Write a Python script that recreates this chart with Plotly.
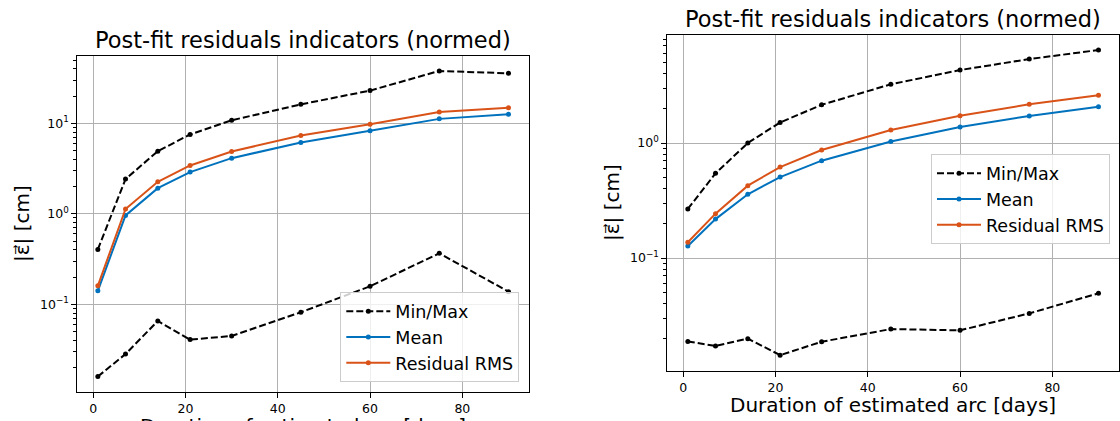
import plotly.graph_objects as go

# ---- data ----
arc_days = [1, 7, 14, 21, 30, 45, 60, 75, 90]

left_max = [0.404, 2.42, 4.92, 7.53, 10.8, 16.2, 23.0, 37.9, 35.7]
left_min = [0.0159, 0.0282, 0.0654, 0.0407, 0.0447, 0.0816, 0.158, 0.366, 0.138]
left_mean = [0.141, 0.96, 1.92, 2.89, 4.12, 6.14, 8.26, 11.2, 12.6]
left_rms = [0.160, 1.13, 2.26, 3.42, 4.88, 7.34, 9.79, 13.3, 14.9]

right_max = [0.267, 0.545, 1.0, 1.51, 2.15, 3.24, 4.31, 5.37, 6.44]
right_min = [0.0188, 0.0172, 0.0199, 0.0143, 0.0187, 0.0241, 0.0235, 0.0330, 0.0493]
right_mean = [0.127, 0.218, 0.358, 0.506, 0.702, 1.03, 1.38, 1.72, 2.07]
right_rms = [0.137, 0.243, 0.426, 0.618, 0.869, 1.30, 1.73, 2.17, 2.60]

y_tickvals = [0.1, 1, 10]
y_ticktext = ["10<sup>\u22121</sup>", "10<sup>0</sup>", "10<sup>1</sup>"]
x_tickvals = [0, 20, 40, 60, 80]

title_text = "Post-fit residuals indicators (normed)"
xlabel_text = "Duration of estimated arc [days]"
ylabel_text = "|\u03b5\u20d7| [cm]"

# ---- styling ----
W, H = 1120, 421
FONT = "DejaVu Sans"
BLACK = "#000000"
BLUE = "#0072BD"
ORANGE = "#D95319"
GRID = "#b0b0b0"

minor_vals = [m * 10 ** e for e in range(-3, 3) for m in range(2, 10)]


def px_x(p):
    return p / W


def px_y(p):
    return 1 - p / H


fig = go.Figure()


def add_panel(xa, ya, leg, ymax, ymin, ymean, yrms):
    common = dict(xaxis=xa, yaxis=ya, legend=leg)
    fig.add_trace(go.Scatter(x=arc_days, y=ymax, mode="lines+markers", name="Min/Max",
                             line=dict(color=BLACK, width=2, dash="7px,3px"),
                             marker=dict(size=5, color=BLACK),
                             legendgroup=leg + "mm", showlegend=True, **common))
    fig.add_trace(go.Scatter(x=arc_days, y=ymin, mode="lines+markers", name="Min/Max",
                             line=dict(color=BLACK, width=2, dash="7px,3px"),
                             marker=dict(size=5, color=BLACK),
                             legendgroup=leg + "mm", showlegend=False, **common))
    fig.add_trace(go.Scatter(x=arc_days, y=ymean, mode="lines+markers", name="Mean",
                             line=dict(color=BLUE, width=2),
                             marker=dict(size=5, color=BLUE),
                             legendgroup=leg + "mean", **common))
    fig.add_trace(go.Scatter(x=arc_days, y=yrms, mode="lines+markers", name="Residual RMS",
                             line=dict(color=ORANGE, width=2),
                             marker=dict(size=5, color=ORANGE),
                             legendgroup=leg + "rms", **common))


add_panel("x", "y", "legend", left_max, left_min, left_mean, left_rms)
add_panel("x2", "y2", "legend2", right_max, right_min, right_mean, right_rms)

xaxis_style = dict(
    range=[-3.45, 94.45], tickmode="array", tickvals=x_tickvals,
    showgrid=True, gridcolor=GRID, gridwidth=1, zeroline=False,
    showline=True, linecolor=BLACK, linewidth=1, mirror=True,
    ticks="outside", ticklen=5, tickcolor=BLACK, tickwidth=1,
    tickfont=dict(family=FONT, size=12.5, color=BLACK),
)
yaxis_style = dict(
    type="log", tickmode="array", tickvals=y_tickvals, ticktext=y_ticktext,
    showgrid=True, gridcolor=GRID, gridwidth=1, zeroline=False,
    showline=True, linecolor=BLACK, linewidth=1, mirror=True,
    ticks="outside", ticklen=5, tickcolor=BLACK, tickwidth=1,
    tickfont=dict(family=FONT, size=12.5, color=BLACK),
    minor=dict(tickmode="array", tickvals=minor_vals, ticks="outside", ticklen=3,
               tickcolor=BLACK, tickwidth=1, showgrid=False),
)

L = dict(x0=77.3, x1=529.0, y0=56.0, y1=391.7)
R = dict(x0=667.3, x1=1119.0, y0=34.7, y1=370.7)

legend_style = dict(
    bgcolor="rgba(255,255,255,0.8)", bordercolor="#cccccc", borderwidth=1,
    font=dict(family=FONT, size=17.5, color=BLACK), itemwidth=44,
    tracegroupgap=0, traceorder="normal",
)

fig.update_layout(
    width=W, height=H, autosize=False,
    margin=dict(l=0, r=0, t=0, b=0),
    paper_bgcolor="white", plot_bgcolor="white",
    font=dict(family=FONT, color=BLACK),
    xaxis=dict(domain=[px_x(L["x0"]), px_x(L["x1"])], anchor="y", **xaxis_style),
    yaxis=dict(domain=[px_y(L["y1"]), px_y(L["y0"])], anchor="x", range=[-1.966, 1.744], **yaxis_style),
    xaxis2=dict(domain=[px_x(R["x0"]), px_x(R["x1"])], anchor="y2", **xaxis_style),
    yaxis2=dict(domain=[px_y(R["y1"]), px_y(R["y0"])], anchor="x2", range=[-1.980, 0.942], **yaxis_style),
    legend=dict(x=px_x(519.3), y=px_y(382.3), xanchor="right", yanchor="bottom", **legend_style),
    legend2=dict(x=px_x(1110.0), y=px_y(244.3), xanchor="right", yanchor="bottom", **legend_style),
    showlegend=True,
)

annots = [
    dict(text=title_text, x=px_x(303), y=px_y(40), size=22.5, angle=0),
    dict(text=title_text, x=px_x(893), y=px_y(19), size=22.5, angle=0),
    dict(text=xlabel_text, x=px_x(303), y=px_y(426), size=20, angle=0),
    dict(text=xlabel_text, x=px_x(893), y=px_y(405), size=20, angle=0),
    dict(text=ylabel_text, x=px_x(21.5), y=px_y(223.5), size=20, angle=-90),
    dict(text=ylabel_text, x=px_x(612), y=px_y(202), size=20, angle=-90),
]
for a in annots:
    fig.add_annotation(text=a["text"], x=a["x"], y=a["y"], xref="paper", yref="paper",
                       xanchor="center", yanchor="middle", showarrow=False,
                       textangle=a["angle"], font=dict(family=FONT, size=a["size"], color=BLACK))

fig.write_html("out.html")
